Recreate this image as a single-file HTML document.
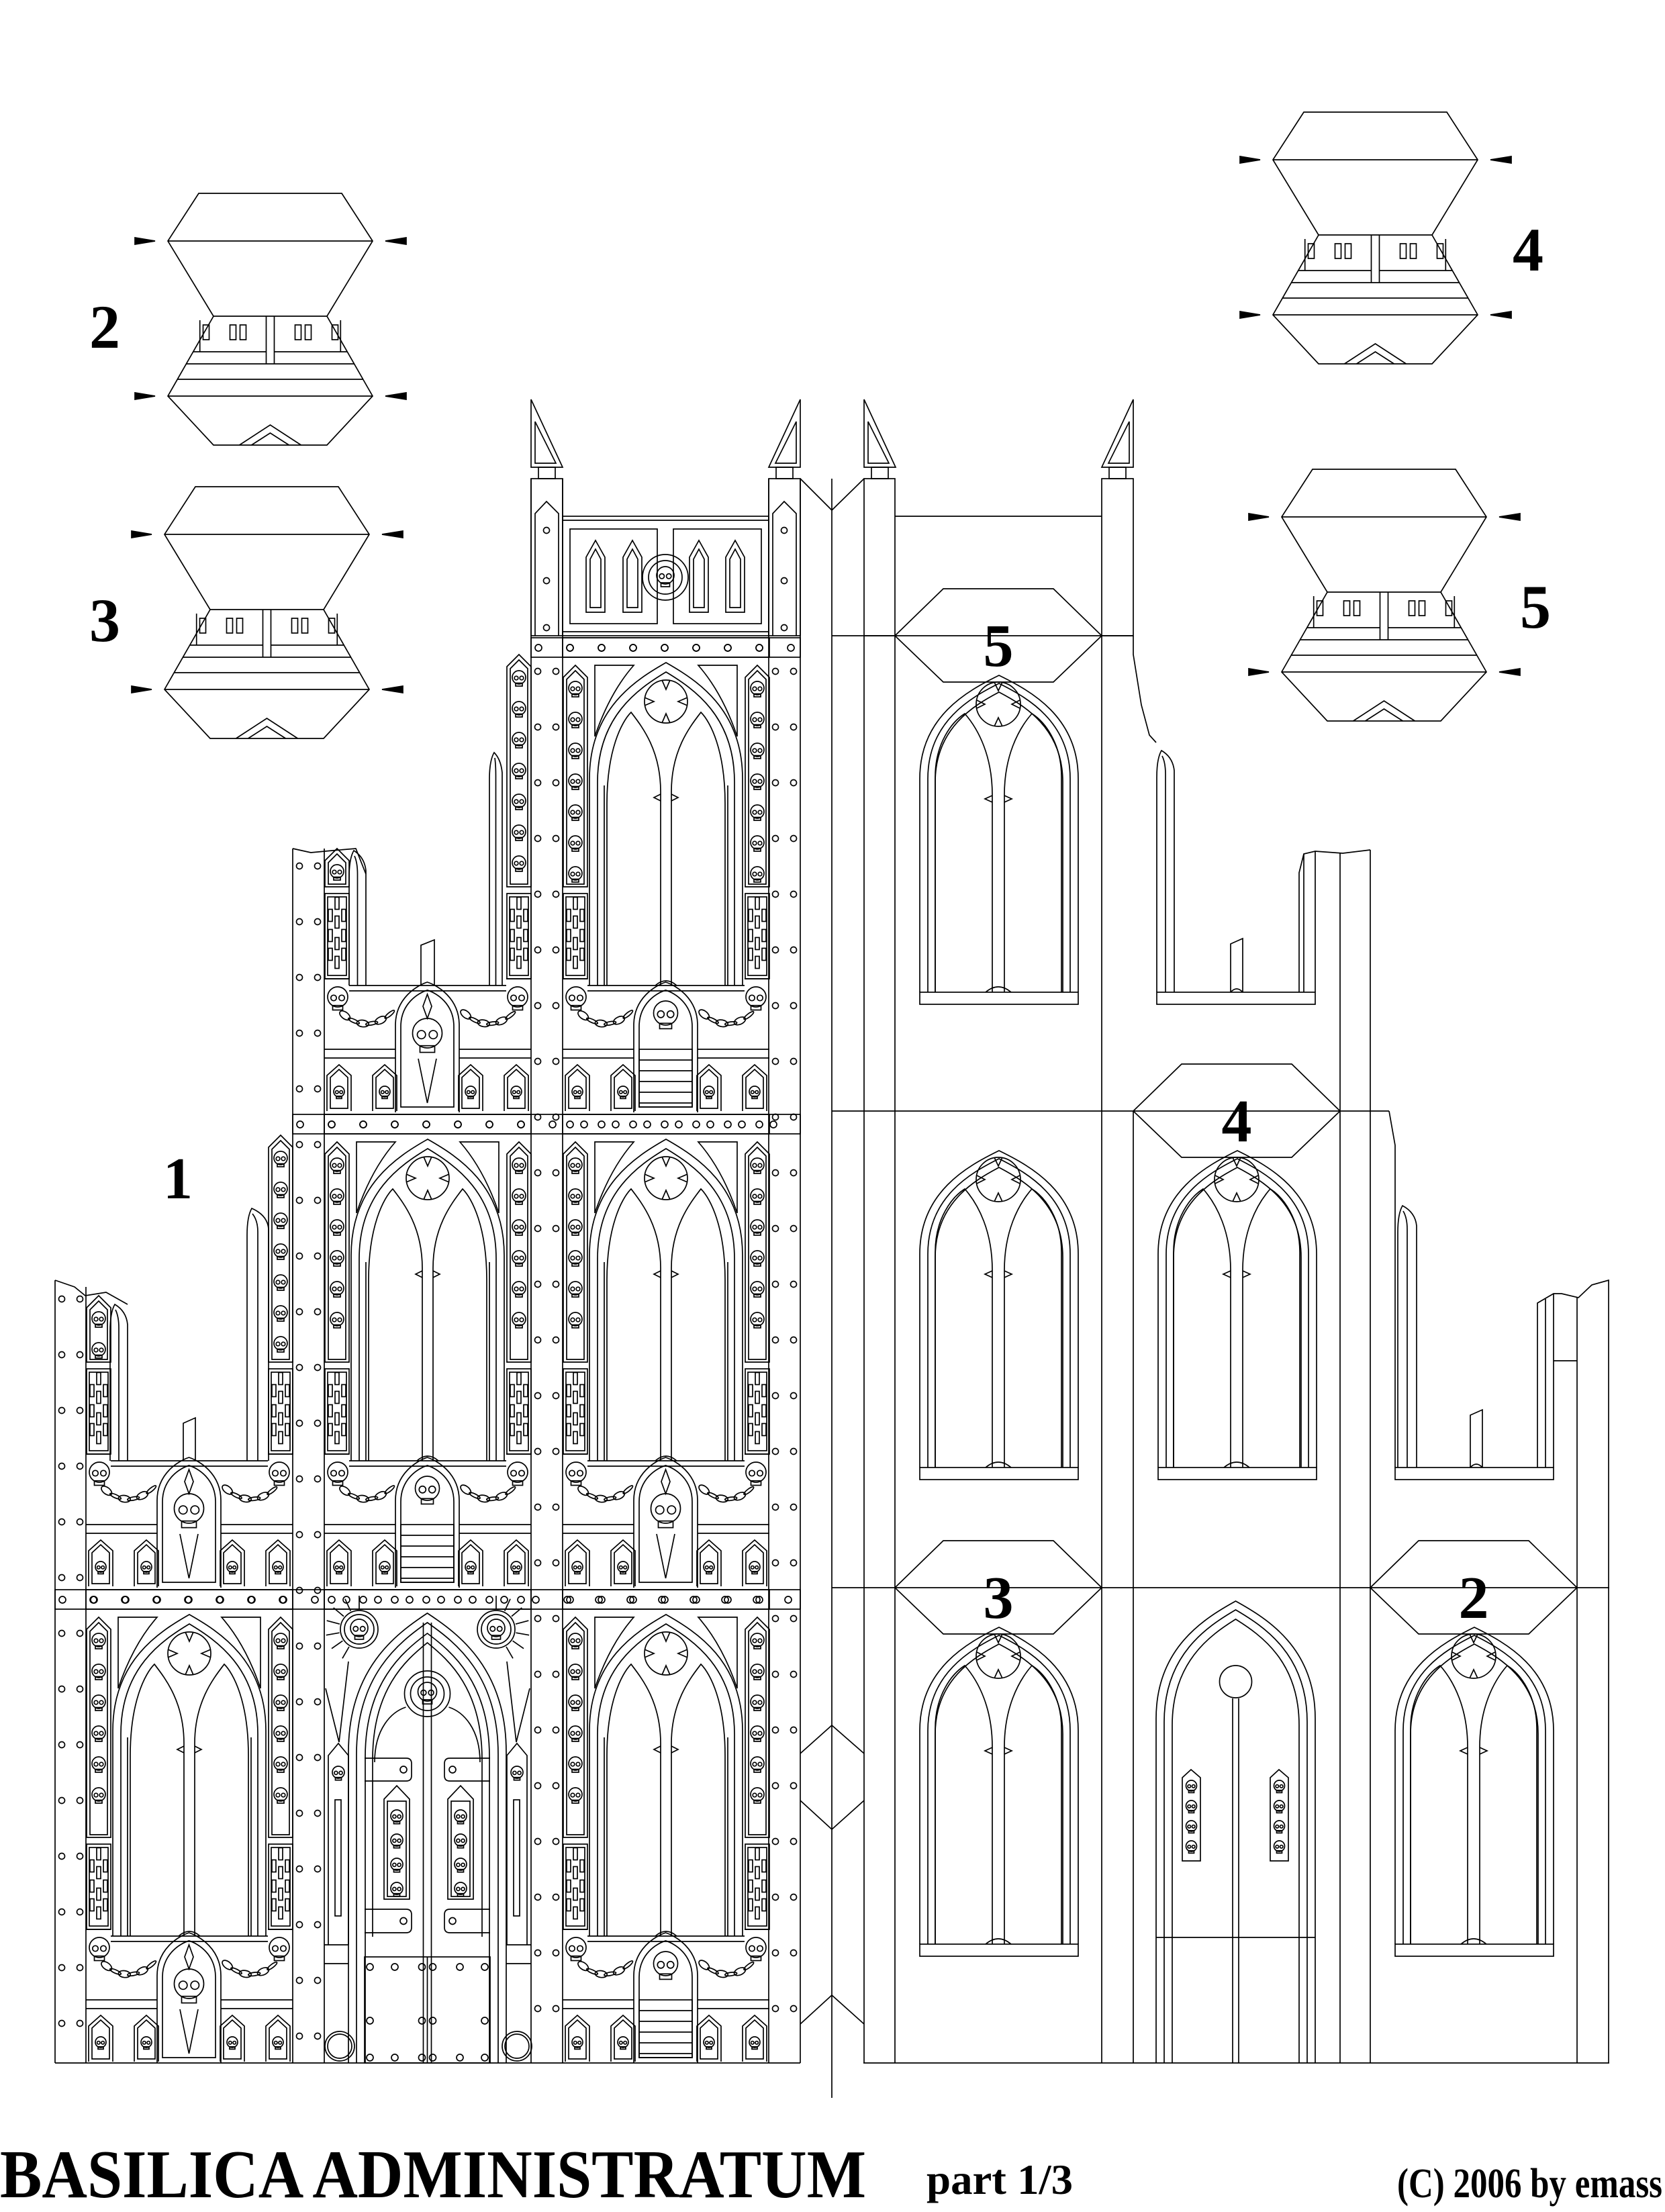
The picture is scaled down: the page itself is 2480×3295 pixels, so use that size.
<!DOCTYPE html>
<html><head><meta charset="utf-8">
<style>
html,body{margin:0;padding:0;background:#fff;}
svg{display:block;}
</style></head>
<body>
<svg id="svg" xmlns="http://www.w3.org/2000/svg" width="2480" height="3295" viewBox="0 0 2480 3295">
<rect x="0" y="0" width="2480" height="3295" fill="#fff"/>
<g id="g" fill="none" stroke="#000" stroke-width="1.7" stroke-linejoin="miter"></g>
<g font-family="'Liberation Serif', serif" fill="#000" font-weight="bold">
<text x="265" y="1785" font-size="88" text-anchor="middle">1</text>
<text x="156" y="518" font-size="92" text-anchor="middle">2</text>
<text x="156" y="955" font-size="92" text-anchor="middle">3</text>
<text x="2276" y="403" font-size="92" text-anchor="middle">4</text>
<text x="2287" y="935" font-size="92" text-anchor="middle">5</text>
<text x="1487" y="992" font-size="90" text-anchor="middle">5</text>
<text x="1842" y="1700" font-size="90" text-anchor="middle">4</text>
<text x="1487" y="2410" font-size="90" text-anchor="middle">3</text>
<text x="2195" y="2410" font-size="90" text-anchor="middle">2</text>
<text x="0" y="3273" font-size="102" textLength="1290" lengthAdjust="spacingAndGlyphs">BASILICA ADMINISTRATUM</text>
<text x="1380" y="3268" font-size="64" textLength="218" lengthAdjust="spacingAndGlyphs">part 1/3</text>
<text x="2081" y="3273" font-size="62" textLength="395" lengthAdjust="spacingAndGlyphs">(C) 2006 by emass</text>
</g>
</svg>
<script>
var o=[];
function L(a,b,c,d){o.push('<line x1="'+a+'" y1="'+b+'" x2="'+c+'" y2="'+d+'"/>');}
function R(x,y,w,h){o.push('<rect x="'+x+'" y="'+y+'" width="'+w+'" height="'+h+'"/>');}
function C(x,y,r){o.push('<circle cx="'+x+'" cy="'+y+'" r="'+r+'"/>');}
function P(d){o.push('<path d="'+d+'"/>');}
function PF(d){o.push('<path d="'+d+'" fill="#000"/>');}
function arch(xl,xr,ys,ya,yb){var cx=(xl+xr)/2,w=xr-xl,h=ys-ya;if(yb===undefined)yb=ys;
 P('M'+xl+','+yb+'L'+xl+','+ys+'C'+xl+','+(ys-h*0.6)+' '+(cx-w*0.2)+','+(ya+h*0.15)+' '+cx+','+ya+'C'+(cx+w*0.2)+','+(ya+h*0.15)+' '+xr+','+(ys-h*0.6)+' '+xr+','+ys+'L'+xr+','+yb);}
function skull(cx,cy,s){C(cx,cy,s);R(cx-s*0.5,cy+s*0.85,s,s*0.45);C(cx-s*0.4,cy+s*0.1,s*0.28);C(cx+s*0.4,cy+s*0.1,s*0.28);}
function skullStrip(x,y1,y2){P('M'+x+','+y2+'L'+x+','+(y1+18)+'L'+(x+18)+','+y1+'L'+(x+36)+','+(y1+18)+'L'+(x+36)+','+y2+'Z');
 P('M'+(x+5)+','+(y2-4)+'L'+(x+5)+','+(y1+21)+'L'+(x+18)+','+(y1+8)+'L'+(x+31)+','+(y1+21)+'L'+(x+31)+','+(y2-4)+'Z');
 for(var y=y1+34;y<y2-18;y+=46)skull(x+18,y,10);}
function crossPanel(x,y,h){R(x,y,36,h);R(x+4,y+5,28,h-10);
 var c=x+18,m=y+h/2;
 R(c-3,m-58,6,18);R(c-3,m-30,6,18);R(c-3,m+2,6,18);R(c-3,m+30,6,18);
 R(c-13,m-40,6,18);R(c+7,m-40,6,18);R(c-13,m-10,6,18);R(c+7,m-10,6,18);R(c-13,m+18,6,18);R(c+7,m+18,6,18);}
function chain(x1,y1,x2,y2,sag){var n=Math.max(3,Math.round(Math.hypot(x2-x1,y2-y1)/13));var cx=(x1+x2)/2,cy=(y1+y2)/2+sag;
 for(var i=0;i<n;i++){var t=(i+0.5)/n;var x=(1-t)*(1-t)*x1+2*t*(1-t)*cx+t*t*x2,y=(1-t)*(1-t)*y1+2*t*(1-t)*cy+t*t*y2;
 var dx=2*(1-t)*(cx-x1)+2*t*(x2-cx),dy=2*(1-t)*(cy-y1)+2*t*(y2-cy);var a=Math.atan2(dy,dx)*180/Math.PI;
 o.push('<ellipse cx="'+x.toFixed(1)+'" cy="'+y.toFixed(1)+'" rx="9" ry="'+(i%2?2.5:5)+'" transform="rotate('+a.toFixed(1)+' '+x.toFixed(1)+' '+y.toFixed(1)+')"/>');}}
function niche(x,y,w,h){P('M'+x+','+(y+h)+'L'+x+','+(y+16)+'L'+(x+w/2)+','+y+'L'+(x+w)+','+(y+16)+'L'+(x+w)+','+(y+h));
 P('M'+(x+5)+','+(y+h-4)+'L'+(x+5)+','+(y+19)+'L'+(x+w/2)+','+(y+7)+'L'+(x+w-5)+','+(y+19)+'L'+(x+w-5)+','+(y+h-4)+'Z');
 skull(x+w/2,y+h*0.58,8);}
function band(x0,w,T){R(x0,T+3,w,29);for(var x=x0+11;x<x0+w-4;x+=47)C(x,T+18,5);}
function pillar(x1,x2,top,bot){P('M'+x1+','+bot+'L'+x1+','+(top+40)+'Q'+x1+','+(top+12)+' '+(x1+7)+','+top+'Q'+(x2-2)+','+(top+10)+' '+x2+','+(top+30)+'L'+x2+','+bot);
 var m=(x1+x2)/2;P('M'+m+','+bot+'L'+m+','+(top+35)+'Q'+m+','+(top+18)+' '+(x1+8)+','+(top+8));}
function stub(x,top,bot,w){P('M'+x+','+bot+'L'+x+','+(top+8)+'L'+(x+w)+','+top+'L'+(x+w)+','+bot);}

function WP(x0,T,B,type,op){op=op||{};var X=function(r){return x0+r;};var yb=B-189;
 if(!op.noBand)band(x0,308,T);
 if(op.win!==false){
  var ys=T+213,ya=T+40;
  arch(X(40),X(268),ys,ya,yb);arch(X(52),X(256),ys+5,ya+14,yb);
  L(X(62),ys+10,X(62),yb);L(X(246),ys+10,X(246),yb);
  P('M'+X(66)+','+yb+'L'+X(66)+','+(T+250)+'C'+X(66)+','+(T+170)+' '+X(88)+','+(T+128)+' '+X(102)+','+(T+114)+'C'+X(118)+','+(T+135)+' '+X(146)+','+(T+170)+' '+X(146)+','+(T+232)+'L'+X(146)+','+yb);
  P('M'+X(242)+','+yb+'L'+X(242)+','+(T+250)+'C'+X(242)+','+(T+170)+' '+X(220)+','+(T+128)+' '+X(206)+','+(T+114)+'C'+X(190)+','+(T+135)+' '+X(162)+','+(T+170)+' '+X(162)+','+(T+232)+'L'+X(162)+','+yb);
  P('M'+X(146)+','+(T+236)+'L'+X(136)+','+(T+241)+'L'+X(146)+','+(T+246)+'M'+X(162)+','+(T+236)+'L'+X(172)+','+(T+241)+'L'+X(162)+','+(T+246));
  C(X(154),T+98,32);
  P('M'+X(148)+','+(T+66)+'L'+X(154)+','+(T+80)+'L'+X(160)+','+(T+66)+'M'+X(148)+','+(T+130)+'L'+X(154)+','+(T+116)+'L'+X(160)+','+(T+130)+'M'+X(122)+','+(T+92)+'L'+X(136)+','+(T+98)+'L'+X(122)+','+(T+104)+'M'+X(186)+','+(T+92)+'L'+X(172)+','+(T+98)+'L'+X(186)+','+(T+104));
  P('M'+X(48)+','+(T+44)+'L'+X(106)+','+(T+44)+'Q'+X(70)+','+(T+85)+' '+X(48)+','+(T+150)+'Z');
  P('M'+X(260)+','+(T+44)+'L'+X(202)+','+(T+44)+'Q'+X(238)+','+(T+85)+' '+X(260)+','+(T+150)+'Z');
  P('M'+X(138)+','+yb+'Q'+X(154)+','+(yb-14)+' '+X(170)+','+yb);
 }
 L(X(37),yb,X(271),yb);L(X(37),yb+8,X(271),yb+8);
 var lT=op.lTop||T+44,rT=op.rTop||T+44;
 skullStrip(X(1),lT,B-336);crossPanel(X(1),B-326,127);
 skullStrip(X(272),rT,B-336);crossPanel(X(272),B-326,127);
 L(x0,B-199,X(37),B-199);L(X(271),B-199,X(308),B-199);
 skull(X(20),B-172,15);skull(X(288),B-172,15);
 chain(X(24),B-150,X(104),B-152,38);chain(X(204),B-152,X(284),B-150,38);
 L(x0,B-94,X(106),B-94);L(x0,B-81,X(106),B-81);L(X(201),B-94,X(308),B-94);L(X(201),B-81,X(308),B-81);
 P('M'+X(106)+','+B+'L'+X(106)+','+(B-130)+'C'+X(106)+','+(B-170)+' '+X(138)+','+(B-189)+' '+X(153.5)+','+(B-194)+'C'+X(169)+','+(B-189)+' '+X(201)+','+(B-170)+' '+X(201)+','+(B-130)+'L'+X(201)+','+B);
 P('M'+X(114)+','+(B-8)+'L'+X(114)+','+(B-128)+'C'+X(114)+','+(B-162)+' '+X(140)+','+(B-178)+' '+X(153.5)+','+(B-182)+'C'+X(167)+','+(B-178)+' '+X(193)+','+(B-162)+' '+X(193)+','+(B-128)+'L'+X(193)+','+(B-8)+'Z');
 if(type==='d'){skull(X(153.5),B-118,22);P('M'+X(153.5)+','+(B-176)+'L'+X(147)+','+(B-158)+'L'+X(153.5)+','+(B-140)+'L'+X(160)+','+(B-158)+'Z');
  P('M'+X(140)+','+(B-80)+'L'+X(153.5)+','+(B-14)+'L'+X(167)+','+(B-80));}
 else{skull(X(153.5),B-148,18);R(X(114),B-94,79,86);for(var yy=B-78;yy<B-10;yy+=16)L(X(114),yy,X(193),yy);}
 niche(X(4),B-71,36,69);niche(X(72),B-71,36,69);niche(X(200),B-71,36,69);niche(X(268),B-71,36,69);
}

function DP(x0,T,B){var X=function(r){return x0+r;};
 band(x0,308,T);
 var cx=X(153.5);
 var med=[[X(52),T+62,1],[X(256),T+62,-1]];
 med.forEach(function(m){for(var k=0;k<7;k++){var a=(90+k*25)*Math.PI/180;var dx=Math.cos(a)*m[2],dy=Math.sin(a);L((m[0]+dx*30).toFixed(1),(m[1]-dy*30).toFixed(1),(m[0]+dx*50).toFixed(1),(m[1]-dy*50).toFixed(1));}C(m[0],m[1],28);C(m[0],m[1],22);skull(m[0],m[1]-2,13);});
 P('M'+X(2)+','+(T+150)+'L'+X(22)+','+(T+230)+'L'+X(36)+','+(T+110)+'M'+X(306)+','+(T+150)+'L'+X(286)+','+(T+230)+'L'+X(272)+','+(T+110));
 arch(X(36),X(271),T+245,T+38,B);arch(X(48),X(259),T+248,T+52,B);arch(X(61),X(246),T+252,T+68,B);arch(X(72),X(235),T+256,T+82,T+520);
 L(cx-6,T+52,cx-6,B);L(cx+6,T+52,cx+6,B);
 C(cx,T+158,34);C(cx,T+158,25);skull(cx,T+155,14);
 P('M'+X(75)+','+(T+260)+'C'+X(75)+','+(T+210)+' '+X(100)+','+(T+185)+' '+(cx-32)+','+(T+178));
 P('M'+X(232)+','+(T+260)+'C'+X(232)+','+(T+210)+' '+X(207)+','+(T+185)+' '+(cx+32)+','+(T+178));
 [[T+254,T+288],[T+479,T+514]].forEach(function(h){P('M'+X(60)+','+h[0]+'L'+X(122)+','+h[0]+'Q'+X(130)+','+h[0]+' '+X(130)+','+(h[0]+8)+'L'+X(130)+','+(h[1]-8)+'Q'+X(130)+','+h[1]+' '+X(122)+','+h[1]+'L'+X(60)+','+h[1]);C(X(118),(h[0]+h[1])/2,5);
  P('M'+X(247)+','+h[0]+'L'+X(187)+','+h[0]+'Q'+X(179)+','+h[0]+' '+X(179)+','+(h[0]+8)+'L'+X(179)+','+(h[1]-8)+'Q'+X(179)+','+h[1]+' '+X(187)+','+h[1]+'L'+X(247)+','+h[1]);C(X(191),(h[0]+h[1])/2,5);});
 [X(89),X(184)].forEach(function(x){P('M'+x+','+(T+464)+'L'+x+','+(T+315)+'L'+(x+19)+','+(T+295)+'L'+(x+38)+','+(T+315)+'L'+(x+38)+','+(T+464)+'Z');R(x+5,T+318,28,142);for(var y=T+340;y<T+460;y+=36)skull(x+19,y,9);});
 [X(6),X(272)].forEach(function(x){P('M'+x+','+(T+532)+'L'+x+','+(T+250)+'L'+(x+15)+','+(T+232)+'L'+(x+30)+','+(T+250)+'L'+(x+30)+','+(T+532));R(x+10,T+316,9,173);skull(x+15,T+275,9);});
 L(x0,T+532,X(36),T+532);L(X(271),T+532,X(308),T+532);L(x0,T+560,X(36),T+560);L(X(271),T+560,X(308),T+560);
 R(X(60),T+550,187,B-T-550);L(cx,T+550,cx,B);
 [T+565,T+645,T+700].forEach(function(y){C(X(68),y,5);C(cx-8,y,5);C(cx+8,y,5);C(X(239),y,5);});
 C(X(105),T+565,5);C(X(202),T+565,5);C(X(105),T+700,5);C(X(202),T+700,5);
 C(X(23),B-25,22);C(X(23),B-25,18);C(X(287),B-25,22);C(X(287),B-25,18);
}

function rightWin(x0,row){var xl=x0+37,xr=x0+273,ya=row+59,ys=row+213,sy=row+531;
 R(xl,sy,236,18);
 arch(xl,xr,ys,ya,sy);arch(xl+12,xr-12,ys,ya+12,sy);arch(xl+23,xr-23,ys+5,ya+25,sy);
 C(x0+154,row+102,33);
 P('M'+(x0+148)+','+(row+69)+'L'+(x0+154)+','+(row+82)+'L'+(x0+160)+','+(row+69)+'M'+(x0+148)+','+(row+135)+'L'+(x0+154)+','+(row+122)+'L'+(x0+160)+','+(row+135)+'M'+(x0+122)+','+(row+96)+'L'+(x0+134)+','+(row+102)+'L'+(x0+122)+','+(row+108)+'M'+(x0+186)+','+(row+96)+'L'+(x0+174)+','+(row+102)+'L'+(x0+186)+','+(row+108));
 P('M'+(x0+60)+','+sy+'L'+(x0+60)+','+(row+210)+'C'+(x0+60)+','+(row+160)+' '+(x0+85)+','+(row+128)+' '+(x0+104)+','+(row+116)+'C'+(x0+125)+','+(row+140)+' '+(x0+145)+','+(row+180)+' '+(x0+145)+','+(row+237)+'L'+(x0+145)+','+sy);
 P('M'+(x0+248)+','+sy+'L'+(x0+248)+','+(row+210)+'C'+(x0+248)+','+(row+160)+' '+(x0+223)+','+(row+128)+' '+(x0+204)+','+(row+116)+'C'+(x0+183)+','+(row+140)+' '+(x0+163)+','+(row+180)+' '+(x0+163)+','+(row+237)+'L'+(x0+163)+','+sy);
 P('M'+(x0+145)+','+(row+238)+'L'+(x0+134)+','+(row+243)+'L'+(x0+145)+','+(row+248)+'M'+(x0+163)+','+(row+238)+'L'+(x0+174)+','+(row+243)+'L'+(x0+163)+','+(row+248));
 P('M'+(x0+135)+','+sy+'Q'+(x0+154)+','+(sy-16)+' '+(x0+173)+','+sy);
}
function hex(x0,x1,ym){P('M'+x0+','+ym+'L'+(x0+72)+','+(ym-70)+'L'+(x1-72)+','+(ym-70)+'L'+x1+','+ym+'L'+(x1-72)+','+(ym+69)+'L'+(x0+72)+','+(ym+69)+'Z');}
function piece(x0,y0){var N=y0+183,W1=y0+71,W2=y0+302,Bt=y0+375,cx=x0+152.5;
 o.push('<path d="M'+(x0+46)+','+y0+'L'+(x0+259)+','+y0+'L'+(x0+305)+','+W1+'L'+(x0+237)+','+N+'L'+(x0+305)+','+W2+'L'+(x0+237)+','+Bt+'L'+(x0+68)+','+Bt+'L'+x0+','+W2+'L'+(x0+68)+','+N+'L'+x0+','+W1+'Z" fill="#fff"/>');
 L(x0,W1,x0+305,W1);L(x0+68,N,x0+237,N);L(x0,W2,x0+305,W2);
 var e=function(y){return 68*(y-N)/119;};
 L(x0+68-e(N+53),N+53,cx-6,N+53);L(cx+6,N+53,x0+237+e(N+53),N+53);
 L(cx-6,N,cx-6,N+71);L(cx+6,N,cx+6,N+71);
 L(x0+68-e(N+71),N+71,x0+237+e(N+71),N+71);L(x0+68-e(N+94),N+94,x0+237+e(N+94),N+94);
 L(x0+68-e(N+53)+10,N+6,x0+68-e(N+53)+10,N+53);L(x0+237+e(N+53)-10,N+6,x0+237+e(N+53)-10,N+53);
 [-60,-45,37,52,-100,92].forEach(function(d){R(cx+d,N+13,9,22);});
 P('M'+(cx-46)+','+Bt+'L'+cx+','+(Bt-30)+'L'+(cx+46)+','+Bt+'M'+(cx-28)+','+Bt+'L'+cx+','+(Bt-18)+'L'+(cx+28)+','+Bt);
 [W1,W2].forEach(function(y){PF('M'+(x0-49)+','+(y-5)+'L'+(x0-19)+','+y+'L'+(x0-49)+','+(y+5)+'Z');PF('M'+(x0+355)+','+(y-5)+'L'+(x0+324)+','+y+'L'+(x0+355)+','+(y+5)+'Z');});
}
function spike(x,apexLeft){if(apexLeft){P('M'+x+',696L'+x+',595L'+(x+47)+',696Z');P('M'+(x+6)+',690L'+(x+6)+',628L'+(x+37)+',690Z');}
 else{P('M'+(x+47)+',696L'+(x+47)+',595L'+x+',696Z');P('M'+(x+41)+',690L'+(x+41)+',628L'+(x+10)+',690Z');}
 R(x+11,696,25,17);}

L(82,1907,82,3073);L(128,1917,128,3073);
L(436,1264,436,3073);L(483,1264,483,3073);
[791,838,1145,1192].forEach(function(x){L(x,713,x,3073);});
L(82,3073,1192,3073);
P('M82,1907L111,1917L127,1930L158,1925L190,1943');
P('M436,1264L463,1270L495,1267L530,1264L545,1302');
function rv(x,y1,y2){for(var y=y1;y<y2;y+=83){C(x+10,y,4.5);C(x+37,y,4.5);}}
rv(82,1935,3073);rv(436,1290,3073);rv(791,1000,3073);rv(1145,1000,3073);
band(82,1110,2365);band(436,756,1657);band(791,401,947);
WP(128,2365,3073,'d');
WP(128,1657,2365,'d',{noBand:true,win:false,lTop:1930,rTop:1691});
pillar(164,190,1943,2176);pillar(368,400,1800,2176);stub(273,2112,2176,18);
DP(483,2365,3073);
WP(483,1657,2365,'l');
WP(483,947,1657,'d',{noBand:true,win:false,lTop:1264,rTop:975});
pillar(520,545,1267,1468);pillar(729,748,1121,1468);stub(627,1400,1468,20);
WP(838,2365,3073,'l');
WP(838,1657,2365,'d');
WP(838,947,1657,'l');
R(838,769,307,178);L(838,775,1145,775);L(838,941,1145,941);
R(849,788,130,141);R(1003,788,131,141);
[873,928,1027,1081].forEach(function(x){P('M'+x+',912L'+x+',830L'+(x+14)+',805L'+(x+28)+',830L'+(x+28)+',912Z');P('M'+(x+6)+',905L'+(x+6)+',833L'+(x+14)+',818L'+(x+22)+',833L'+(x+22)+',905Z');});
C(991,860,34);C(991,860,25);skull(991,857,13);
[791,1145].forEach(function(x){R(x,713,47,234);P('M'+(x+6)+',947L'+(x+6)+',765L'+(x+23)+',747L'+(x+41)+',765L'+(x+41)+',947');C(x+23,790,4.5);C(x+23,865,4.5);C(x+23,935,4.5);});
spike(791,true);spike(1145,false);
L(1239,713,1239,3125);
P('M1192,713L1239,760L1287,713');
P('M1192,2612L1239,2570L1287,2612M1192,2682L1239,2725L1287,2682');
P('M1192,3015L1239,2972L1287,3015');

spike(1287,true);spike(1641,false);
R(1287,713,46,234);R(1641,713,47,234);
L(1287,947,1287,3073);L(1333,947,1333,3073);L(1641,947,1641,3073);
L(1333,769,1641,769);
P('M1688,947L1688,975L1700,1050L1712,1095L1722,1106');
L(1688,1655,1688,3073);
L(1239,947,1688,947);L(1239,1655,2069,1655);L(1239,2365,2397,2365);
L(1286,3073,2397,3073);
pillar(1723,1749,1118,1478);R(1723,1478,236,18);stub(1833,1398,1478,18);
P('M1833,1478Q1842,1468 1851,1478');
P('M1935,1478L1935,1300L1942,1272L1959,1268L2000,1271L2041,1266');L(1942,1272,1942,1478);L(1959,1268,1959,1478);
L(1996,1270,1996,3073);L(2041,1266,2041,3073);
P('M2069,1655L2078,1706L2078,2186');
pillar(2082,2110,1796,2186);R(2078,2186,236,18);stub(2190,2100,2186,18);
P('M2190,2186Q2199,2176 2208,2186');
P('M2290,2186L2290,1941L2314,1927L2326,1927L2351,1933L2371,1914L2396,1907L2396,3073');
L(2302,1935,2302,2186);L(2314,1927,2314,2186);L(2349,1933,2349,3073);L(2314,2027,2349,2027);
rightWin(1333,947);rightWin(1333,1655);rightWin(1688,1655);rightWin(1333,2365);rightWin(2041,2365);
arch(1722,1959,2560,2385,2886);arch(1734,1947,2565,2398,2886);arch(1746,1935,2570,2412,3073);
L(1836,2530,1836,3073);L(1845,2530,1845,3073);C(1840.5,2505,24);
L(1722,2886,1959,2886);L(1734,2886,1734,3073);L(1722,2886,1722,3073);L(1959,2886,1959,3073);L(1947,2886,1947,3073);
[1761,1892].forEach(function(x){P('M'+x+',2772L'+x+',2648L'+(x+13)+',2636L'+(x+27)+',2648L'+(x+27)+',2772Z');for(var y=2660;y<2770;y+=30)skull(x+13.5,y,8);});
hex(1333,1641,947);hex(1688,1996,1655);hex(1333,1641,2365);hex(2041,2349,2365);
piece(250,288);piece(245,725);piece(1896,167);piece(1909,699);

document.getElementById('g').innerHTML=o.join('');
</script>
</body></html>
